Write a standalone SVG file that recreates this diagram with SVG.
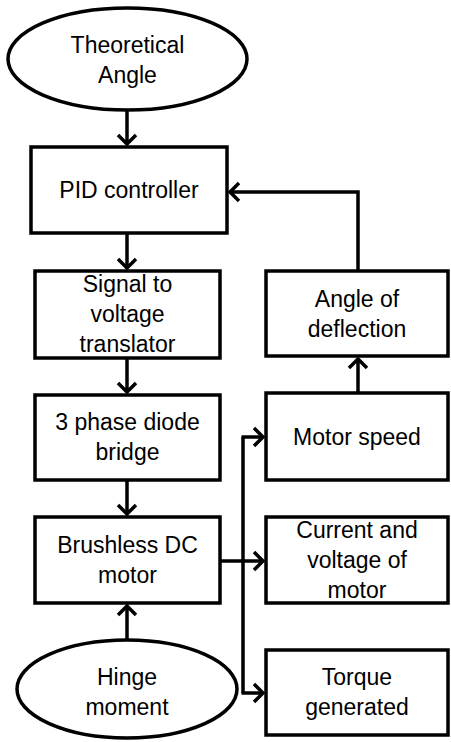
<svg xmlns="http://www.w3.org/2000/svg" width="451" height="742" viewBox="0 0 451 742">
<style>
.box{fill:#fff;stroke:#000;stroke-width:3.5}
.t{font-family:"Liberation Sans",Arial,sans-serif;font-size:23px;fill:#000;text-anchor:middle}
.c{fill:none;stroke:#000;stroke-width:3.5}
</style>
<defs>
<marker id="arr" markerUnits="userSpaceOnUse" markerWidth="24" markerHeight="24" viewBox="-12 -12 24 24" refX="0" refY="0" orient="auto" overflow="visible">
<path d="M-9,-9 L0,0 L-9,9" fill="none" stroke="#000" stroke-width="3.5"/>
</marker>
</defs>
<rect width="451" height="742" fill="#fff"/>
<g id="connectors">
<line class="c" x1="127" y1="110" x2="127" y2="144" marker-end="url(#arr)"/>
<line class="c" x1="127" y1="233" x2="127" y2="268" marker-end="url(#arr)"/>
<line class="c" x1="127" y1="358" x2="127" y2="392" marker-end="url(#arr)"/>
<line class="c" x1="127" y1="480" x2="127" y2="514" marker-end="url(#arr)"/>
<line class="c" x1="127" y1="640" x2="127" y2="606" marker-end="url(#arr)"/>
<polyline class="c" points="358,271 358,192 230,192" marker-end="url(#arr)"/>
<line class="c" x1="358" y1="393" x2="358" y2="359" marker-end="url(#arr)"/>
<line class="c" x1="220" y1="561" x2="263" y2="561" marker-end="url(#arr)"/>
<line class="c" x1="243" y1="437" x2="243" y2="693"/>
<line class="c" x1="241.5" y1="437" x2="263" y2="437" marker-end="url(#arr)"/>
<line class="c" x1="241.5" y1="693" x2="263" y2="693" marker-end="url(#arr)"/>
</g>
<g id="theoretical">
<ellipse class="box" cx="127.5" cy="59" rx="119.5" ry="51"/>
<text class="t" x="127.5" y="53">Theoretical</text>
<text class="t" x="127.5" y="83">Angle</text>
</g>
<g id="pid">
<rect class="box" x="31" y="147" width="196" height="86"/>
<text class="t" x="129" y="198">PID controller</text>
</g>
<g id="signal">
<rect class="box" x="35" y="271" width="185" height="87"/>
<text class="t" x="127.5" y="292">Signal to</text>
<text class="t" x="127.5" y="322">voltage</text>
<text class="t" x="127.5" y="352">translator</text>
</g>
<g id="diode">
<rect class="box" x="35" y="395" width="185" height="85"/>
<text class="t" x="127.5" y="430">3 phase diode</text>
<text class="t" x="127.5" y="460">bridge</text>
</g>
<g id="motor">
<rect class="box" x="35" y="517" width="185" height="86"/>
<text class="t" x="127.5" y="553">Brushless DC</text>
<text class="t" x="127.5" y="583">motor</text>
</g>
<g id="hinge">
<ellipse class="box" cx="127" cy="689" rx="110" ry="49"/>
<text class="t" x="127" y="685">Hinge</text>
<text class="t" x="127" y="715">moment</text>
</g>
<g id="deflection">
<rect class="box" x="266" y="271" width="182" height="85"/>
<text class="t" x="357" y="307">Angle of</text>
<text class="t" x="357" y="337">deflection</text>
</g>
<g id="speed">
<rect class="box" x="266" y="393" width="182" height="87"/>
<text class="t" x="357" y="445">Motor speed</text>
</g>
<g id="current">
<rect class="box" x="266" y="517" width="182" height="86"/>
<text class="t" x="357" y="538">Current and</text>
<text class="t" x="357" y="568">voltage of</text>
<text class="t" x="357" y="598">motor</text>
</g>
<g id="torque">
<rect class="box" x="266" y="650" width="182" height="85"/>
<text class="t" x="357" y="685">Torque</text>
<text class="t" x="357" y="715">generated</text>
</g>
</svg>
